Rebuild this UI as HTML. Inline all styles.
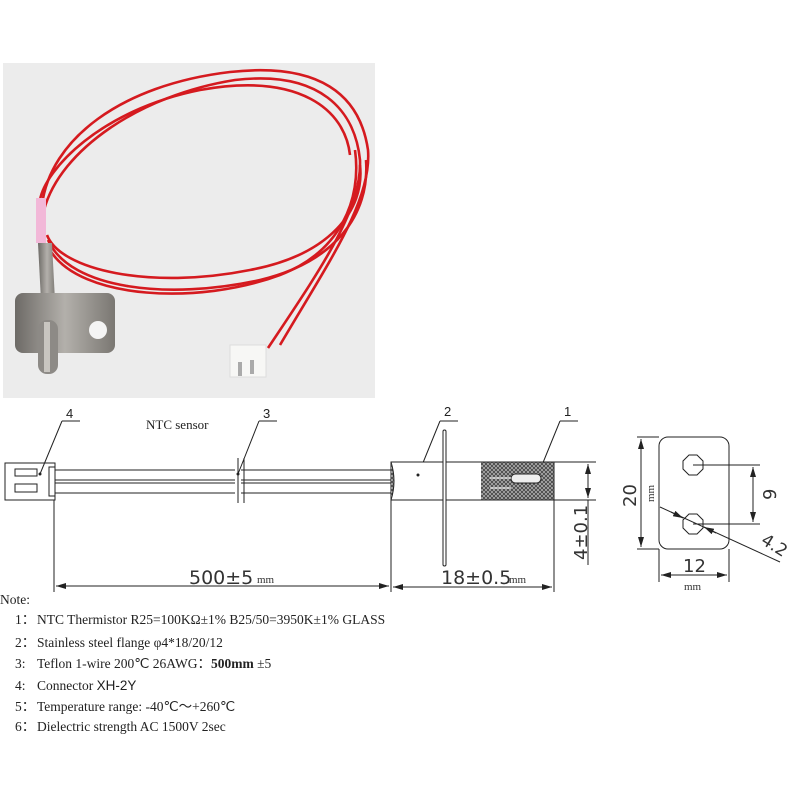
<!DOCTYPE html>
<html><head><meta charset="utf-8"><style>
html,body{margin:0;padding:0;background:#fff;width:800px;height:800px;overflow:hidden}
svg{display:block}
</style></head><body>
<svg width="800" height="800" viewBox="0 0 800 800" xmlns="http://www.w3.org/2000/svg" font-family="Liberation Serif, serif">
<defs>
<pattern id="hatch" width="4" height="4" patternUnits="userSpaceOnUse">
<rect width="4" height="4" fill="#444"/>
<path d="M0 4L4 0M0 0L4 4" stroke="#bbb" stroke-width="0.7"/>
</pattern>
<marker id="ar" viewBox="0 0 10 6" refX="10" refY="3" markerWidth="10" markerHeight="6" orient="auto-start-reverse" markerUnits="userSpaceOnUse"><path d="M0 0L10 3L0 6z" fill="#222"/></marker>
<linearGradient id="steel" x1="0" x2="1"><stop offset="0" stop-color="#6d6a66"/><stop offset="0.5" stop-color="#b3b0ab"/><stop offset="1" stop-color="#7a7772"/></linearGradient>
</defs>
<!-- photo -->
<rect x="3" y="63" width="372" height="335" fill="#ececec"/>
<g fill="none" stroke="#d51a1f" stroke-width="2.6">
<path d="M42 205 C50 140 120 85 230 72 C320 62 360 95 368 150 C372 200 330 260 280 345"/>
<path d="M44 210 C60 150 140 95 235 80 C320 70 355 110 360 160 C362 210 320 270 268 348"/>
<path d="M47 235 C60 270 150 290 250 270 C330 255 365 210 360 165"/>
<path d="M48 240 C70 290 170 300 260 280 C335 262 370 215 366 160"/>
<path d="M50 250 C80 300 200 305 280 275 C340 252 362 200 355 150"/>
<path d="M40 200 C45 170 100 110 200 90 C300 72 345 110 350 155"/>
</g>
<rect x="36" y="198" width="10" height="45" fill="#f2b8d8"/>
<path d="M38 243 L52 243 L56 320 L42 320 Z" fill="url(#steel)"/>
<rect x="15" y="293" width="100" height="60" rx="8" fill="url(#steel)"/>
<circle cx="98" cy="330" r="9" fill="#f4f4f4"/>
<rect x="38" y="320" width="20" height="54" rx="9" fill="#8d8a86"/>
<rect x="44" y="322" width="6" height="50" fill="#c8c5c0"/>
<rect x="230" y="345" width="36" height="32" fill="#f7f7f5" stroke="#ddd"/>
<rect x="238" y="362" width="4" height="14" fill="#aaa"/><rect x="250" y="360" width="4" height="14" fill="#aaa"/>

<!-- drawing -->
<g stroke="#222" stroke-width="1" fill="none">
<rect x="5" y="463" width="50" height="37"/>
<rect x="15" y="469" width="22" height="7"/>
<rect x="15" y="484" width="22" height="8"/>
<rect x="49" y="467" width="6" height="29"/>
<line x1="55" y1="470" x2="392" y2="470"/>
<line x1="55" y1="480" x2="392" y2="480"/>
<line x1="55" y1="483" x2="392" y2="483"/>
<line x1="55" y1="493" x2="392" y2="493"/>
<line x1="238" y1="458" x2="238" y2="503" stroke="#fff" stroke-width="6"/>
<line x1="238" y1="458" x2="238" y2="503"/>
<line x1="244" y1="458" x2="244" y2="503"/>
<path d="M62 421H80M62 421L40 474"/>
<path d="M259 421H277M259 421L238 474"/>
<path d="M440 421H458M440 421L418 475"/>
<path d="M560 421H578M560 421L540 470"/>
<rect x="391" y="462" width="163" height="38" fill="#fff"/>
<rect x="481" y="462" width="73" height="38" fill="url(#hatch)" stroke="none"/>
<path d="M391 462H554V500H391"/>
<path d="M391 462 Q397 481 391 500" fill="url(#hatch)"/>
<rect x="443" y="430" width="3" height="136" rx="1.5" fill="#fff"/>
<rect x="511" y="474" width="30" height="9" rx="4.5" fill="#eee"/>
<line x1="490" y1="478" x2="511" y2="478" stroke="#fff"/>
<line x1="490" y1="488" x2="511" y2="488" stroke="#fff"/>
<line x1="54" y1="500" x2="54" y2="592"/>
<line x1="391" y1="500" x2="391" y2="592"/>
<line x1="554" y1="500" x2="554" y2="592"/>
<line x1="56" y1="586" x2="389" y2="586" marker-start="url(#ar)" marker-end="url(#ar)"/>
<line x1="393" y1="587" x2="552" y2="587" marker-start="url(#ar)" marker-end="url(#ar)"/>
<line x1="554" y1="462" x2="596" y2="462"/>
<line x1="554" y1="500" x2="596" y2="500"/>
<line x1="588" y1="464" x2="588" y2="498" marker-start="url(#ar)" marker-end="url(#ar)"/>
<line x1="588" y1="500" x2="588" y2="565"/>
<rect x="659" y="437" width="70" height="112" rx="9"/>
<polygon points="689,455 697,455 703,461 703,469 697,475 689,475 683,469 683,461"/>
<polygon points="689,514 697,514 703,520 703,528 697,534 689,534 683,528 683,520"/>
<line x1="637" y1="437" x2="659" y2="437"/>
<line x1="637" y1="549" x2="659" y2="549"/>
<line x1="641" y1="439" x2="641" y2="547" marker-start="url(#ar)" marker-end="url(#ar)"/>
<line x1="693" y1="465" x2="760" y2="465"/>
<line x1="693" y1="524" x2="760" y2="524"/>
<line x1="753" y1="467" x2="753" y2="522" marker-start="url(#ar)" marker-end="url(#ar)"/>
<line x1="660" y1="507" x2="780" y2="562"/>
<line x1="671" y1="512" x2="683" y2="518" marker-end="url(#ar)"/>
<line x1="716" y1="533" x2="704" y2="527" marker-end="url(#ar)"/>
<line x1="659" y1="549" x2="659" y2="582"/>
<line x1="729" y1="549" x2="729" y2="582"/>
<line x1="661" y1="575" x2="727" y2="575" marker-start="url(#ar)" marker-end="url(#ar)"/>
</g>
<g fill="#222">
<circle cx="40" cy="474" r="1.5"/><circle cx="238" cy="474" r="1.5"/><circle cx="418" cy="475" r="1.5"/>
</g>
<g font-family="Liberation Sans, sans-serif" font-size="13" fill="#222">
<text x="66" y="418">4</text><text x="263" y="418">3</text><text x="444" y="416">2</text><text x="564" y="416">1</text>
</g>
<text x="146" y="429" font-size="13" fill="#222">NTC sensor</text>
<g font-family="DejaVu Sans, sans-serif" fill="#333">
<text x="189" y="584" font-size="19">500±5</text>
<text x="441" y="584" font-size="19">18±0.5</text>
<text x="683" y="572" font-size="18">12</text>
<text transform="translate(587,560) rotate(-90)" font-size="18">4±0.1</text>
<text transform="translate(636,507) rotate(-90)" font-size="18">20</text>
<text transform="translate(776,500) rotate(-90)" font-size="18">9</text>
<text transform="translate(760,543) rotate(32)" font-size="17">4.2</text>
</g>
<g font-size="11" fill="#333">
<text x="257" y="583">mm</text><text x="509" y="583">mm</text><text x="684" y="590">mm</text>
<text transform="translate(654,502) rotate(-90)">mm</text>
</g>
<g font-size="13.5" fill="#222">
<text x="0" y="604">Note:</text>
<text x="15" y="624">1：</text><text x="37" y="624">NTC Thermistor R25=100KΩ±1% B25/50=3950K±1% GLASS</text>
<text x="15" y="647">2：</text><text x="37" y="647">Stainless steel flange φ4*18/20/12</text>
<text x="15" y="668">3:</text><text x="37" y="668">Teflon 1-wire 200℃ 26AWG：<tspan font-weight="bold">500mm</tspan> ±5</text>
<text x="15" y="690">4:</text><text x="37" y="690">Connector <tspan font-family="Liberation Sans, sans-serif">XH-2Y</tspan></text>
<text x="15" y="711">5：</text><text x="37" y="711">Temperature range: -40℃～+260℃</text>
<text x="15" y="731">6：</text><text x="37" y="731">Dielectric strength AC 1500V 2sec</text>
</g>
</svg>
</body></html>
